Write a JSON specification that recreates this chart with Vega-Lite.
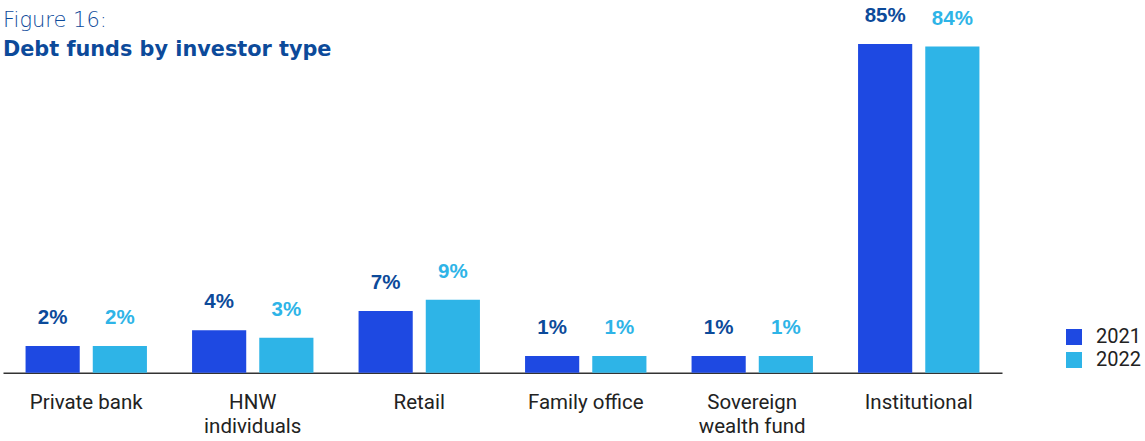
{
  "$schema": "https://vega.github.io/schema/vega-lite/v6.json",
  "autosize": "none",
  "padding": {"left": 3, "top": 44, "right": 143, "bottom": 68.3},
  "width": 999,
  "height": 328.7,
  "background": "white",
  "title": {
    "text": "Figure 16:",
    "subtitle": "Debt funds by investor type",
    "anchor": "start",
    "frame": "group",
    "orient": "top",
    "offset": -54,
    "dx": 0,
    "font": "DejaVu Sans",
    "fontWeight": 200,
    "fontSize": 21,
    "color": "#0C4A9A",
    "subtitleFont": "DejaVu Sans",
    "subtitleFontWeight": "bold",
    "subtitleFontSize": 20.8,
    "subtitleColor": "#0C4A9A",
    "subtitlePadding": 9
  },
  "data": {
    "values": [
      {"type": "Private bank", "year": "2021", "value": 2, "label": "2%"},
      {"type": "Private bank", "year": "2022", "value": 2, "label": "2%"},
      {"type": "HNW individuals", "year": "2021", "value": 4, "label": "4%"},
      {"type": "HNW individuals", "year": "2022", "value": 3, "label": "3%"},
      {"type": "Retail", "year": "2021", "value": 7, "label": "7%"},
      {"type": "Retail", "year": "2022", "value": 9, "label": "9%"},
      {"type": "Family office", "year": "2021", "value": 1, "label": "1%"},
      {"type": "Family office", "year": "2022", "value": 1, "label": "1%"},
      {"type": "Sovereign wealth fund", "year": "2021", "value": 1, "label": "1%"},
      {"type": "Sovereign wealth fund", "year": "2022", "value": 1, "label": "1%"},
      {"type": "Institutional", "year": "2021", "value": 85, "label": "85%"},
      {"type": "Institutional", "year": "2022", "value": 84, "label": "84%"}
    ]
  },
  "encoding": {
    "x": {
      "field": "type",
      "type": "nominal",
      "sort": null,
      "scale": {"paddingInner": 0.271, "paddingOuter": 0.1355},
      "axis": {
        "title": null,
        "labelAngle": 0,
        "ticks": false,
        "domainColor": "#333333",
        "domainWidth": 1.5,
        "labelFont": "Roboto",
        "labelFontSize": 20.5,
        "labelColor": "#222222",
        "labelPadding": 20,
        "labelLineHeight": 24,
        "labelExpr": "datum.label == 'HNW individuals' ? ['HNW', 'individuals'] : datum.label == 'Sovereign wealth fund' ? ['Sovereign', 'wealth fund'] : datum.label"
      }
    },
    "xOffset": {
      "field": "year",
      "type": "nominal",
      "scale": {"paddingInner": 0.194, "paddingOuter": 0}
    },
    "y": {
      "field": "value",
      "type": "quantitative",
      "scale": {"type": "pow", "exponent": 0.67, "domain": [0, 85], "nice": false, "zero": true},
      "axis": null
    }
  },
  "layer": [
    {
      "mark": {"type": "bar"},
      "encoding": {
        "color": {
          "field": "year",
          "type": "nominal",
          "scale": {"domain": ["2021", "2022"], "range": ["#1E49E2", "#2EB4E7"]},
          "legend": {
            "title": null,
            "orient": "none",
            "legendX": 1061,
            "legendY": 283,
            "symbolType": "square",
            "symbolSize": 256,
            "symbolStrokeWidth": 0,
            "labelFont": "Roboto",
            "labelFontSize": 20,
            "labelColor": "#222222",
            "labelOffset": 12,
            "rowPadding": 3,
            "padding": 0
          }
        }
      }
    },
    {
      "mark": {"type": "text", "font": "Liberation Sans", "fontWeight": "bold", "fontSize": 20.5, "baseline": "alphabetic", "dy": -22},
      "encoding": {
        "text": {"field": "label", "type": "nominal"},
        "color": {
          "field": "year",
          "type": "nominal",
          "scale": {"domain": ["2021", "2022"], "range": ["#0C4A9A", "#2EB4E7"]},
          "legend": null
        }
      }
    }
  ],
  "resolve": {"scale": {"color": "independent"}},
  "config": {"view": {"stroke": null}}
}
